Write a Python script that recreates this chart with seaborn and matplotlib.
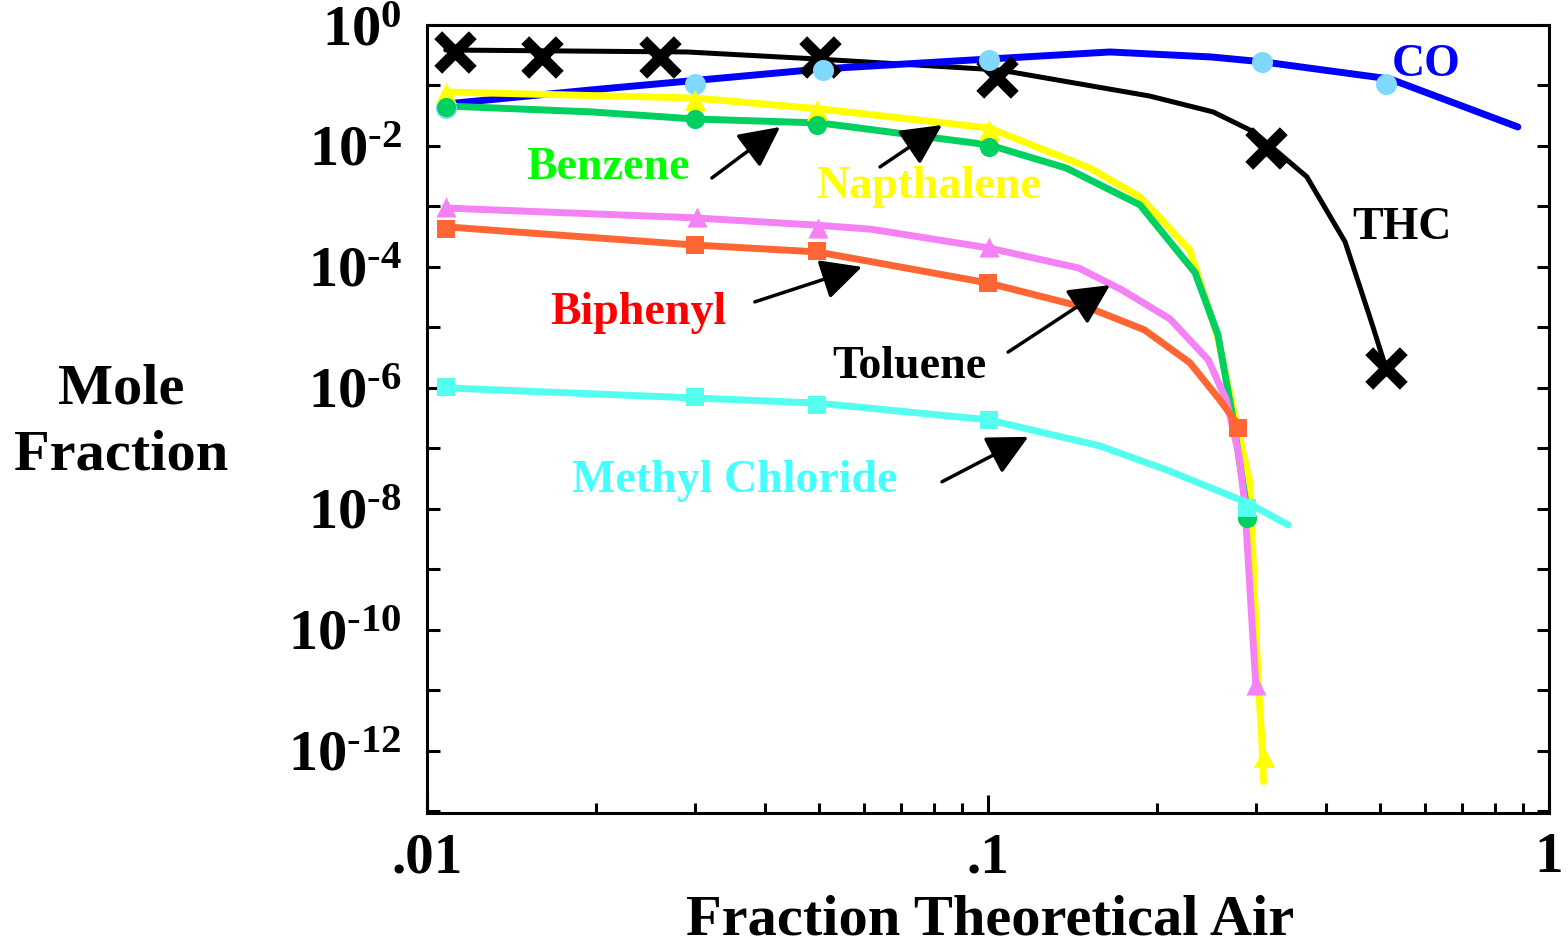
import numpy as np
import pandas as pd
import matplotlib
matplotlib.use("Agg")
import matplotlib.pyplot as plt
import matplotlib.ticker as mticker
import seaborn as sns

# ---- data (model curves + data points) ----
thc_x = [0.0108, 0.0291, 0.0496, 0.105, 0.194, 0.252, 0.298, 0.37, 0.433, 0.483, 0.51]
thc_y = [0.386, 0.358, 0.274, 0.18, 0.067, 0.0365, 0.017, 0.0031, 2.6e-4, 1.19e-5, 2.4e-6]
thc_px = [0.0112, 0.016, 0.026, 0.0502, 0.1037, 0.313, 0.512]
thc_py = [0.358, 0.296, 0.296, 0.296, 0.138, 0.0093, 2.14e-6]

co_x = [0.0108, 0.0195, 0.0502, 0.1004, 0.165, 0.25, 0.31, 0.521, 0.88]
co_y = [0.0494, 0.084, 0.187, 0.274, 0.358, 0.296, 0.245, 0.128, 0.0206]
co_px = [0.0108, 0.030, 0.0508, 0.1004, 0.308, 0.512]
co_py = [0.0425, 0.106, 0.18, 0.264, 0.245, 0.106]

nap_x = [0.0108, 0.030, 0.0502, 0.1004, 0.152, 0.1866, 0.229, 0.256, 0.293, 0.303, 0.308, 0.31]
nap_y = [0.078, 0.062, 0.041, 0.0198, 0.0043, 0.00144, 1.9e-4, 7.5e-6, 2.7e-8, 1.5e-11, 1.26e-12, 3.1e-13]
nap_px = [0.0108, 0.030, 0.0496, 0.1004, 0.31]
nap_py = [0.075, 0.058, 0.039, 0.0184, 7.9e-13]

ben_x = [0.0108, 0.0197, 0.030, 0.0502, 0.1004, 0.138, 0.1866, 0.234, 0.257, 0.273, 0.29]
ben_y = [0.0458, 0.0365, 0.0279, 0.024, 0.0104, 0.0043, 0.00106, 8e-5, 7.5e-6, 3.3e-7, 8.6e-9]
ben_px = [0.0108, 0.030, 0.0496, 0.1004, 0.29]
ben_py = [0.0441, 0.0279, 0.0222, 0.0096, 7.1e-9]

tol_x = [0.0108, 0.0297, 0.0496, 0.0619, 0.1002, 0.145, 0.173, 0.211, 0.247, 0.266, 0.28, 0.287, 0.30]
tol_y = [9.4e-4, 6.5e-4, 4.9e-4, 4.2e-4, 2.06e-4, 9.6e-5, 4.2e-5, 1.38e-5, 2.9e-6, 6.3e-7, 7.8e-8, 1.16e-8, 1.33e-11]
tol_px = [0.0108, 0.0303, 0.0498, 0.1004, 0.30]
tol_py = [9.8e-4, 6.7e-4, 4.4e-4, 2.1e-4, 1.23e-11]

bip_x = [0.0108, 0.030, 0.0496, 0.0596, 0.1002, 0.1545, 0.19, 0.229, 0.259, 0.279]
bip_y = [4.6e-4, 2.3e-4, 1.77e-4, 1.3e-4, 5.4e-5, 1.95e-5, 9.1e-6, 2.6e-6, 6.3e-7, 2.45e-7]
bip_px = [0.0108, 0.030, 0.0496, 0.1002, 0.279]
bip_py = [4.2e-4, 2.3e-4, 1.8e-4, 5.4e-5, 2.2e-7]

mcl_x = [0.0108, 0.030, 0.0496, 0.1002, 0.158, 0.208, 0.29, 0.343]
mcl_y = [1e-6, 6.8e-7, 5.6e-7, 2.96e-7, 1.1e-7, 4.4e-8, 1.26e-8, 5.4e-9]
mcl_px = [0.0108, 0.030, 0.0496, 0.1004, 0.29]
mcl_py = [1.04e-6, 7.1e-7, 5.2e-7, 2.96e-7, 1.04e-8]

# (name, line x, line y, point x, point y, line colour, marker colour, marker, size, lw)
series = [
    ("THC", thc_x, thc_y, thc_px, thc_py, "black", "black", "x", 620, 3.6),
    ("CO", co_x, co_y, co_px, co_py, "#0000ff", "#80d8ff", "o", 230, 5.0),
    ("Napthalene", nap_x, nap_y, nap_px, nap_py, "#ffff00", "#ffff00", "^", 230, 5.0),
    ("Benzene", ben_x, ben_y, ben_px, ben_py, "#00d060", "#00d060", "o", 190, 5.0),
    ("Toluene", tol_x, tol_y, tol_px, tol_py, "#f582f5", "#f582f5", "^", 210, 5.0),
    ("Biphenyl", bip_x, bip_y, bip_px, bip_py, "#ff6633", "#ff6633", "s", 160, 5.0),
    ("Methyl Chloride", mcl_x, mcl_y, mcl_px, mcl_py, "#55fff0", "#55fff0", "s", 160, 5.0),
]

# labels: text, colour, text position, arrow tail, arrow head
labels = [
    ("Benzene", "#00ff00", (0.021, 0.0043), (0.0322, 0.00296), (0.0426, 0.0206)),
    ("Napthalene", "#ffff00", (0.0782, 0.0021), (0.0642, 0.0045), (0.0828, 0.0222)),
    ("Biphenyl", "#ff0000", (0.0238, 1.74e-5), (0.0384, 2.64e-5), (0.0596, 1e-4)),
    ("Toluene", "black", (0.0723, 2.2e-6), (0.1086, 3.9e-6), (0.165, 5e-5)),
    ("Methyl Chloride", "#44ffff", (0.0353, 2.9e-8), (0.0828, 2.8e-8), (0.118, 1.55e-7)),
    ("THC", "black", (0.547, 4.4e-4), None, None),
    ("CO", "#0000ff", (0.604, 0.218), None, None),
]

sns.set_theme(style="white")
plt.rcParams["font.family"] = ["Liberation Serif", "DejaVu Serif"]
plt.rcParams["font.weight"] = "bold"
plt.rcParams["mathtext.fontset"] = "custom"
plt.rcParams["mathtext.rm"] = "Liberation Serif:bold"
plt.rcParams["mathtext.bf"] = "Liberation Serif:bold"
plt.rcParams["mathtext.it"] = "Liberation Serif:bold"
for key in ["text.color", "axes.labelcolor", "xtick.color", "ytick.color", "axes.edgecolor"]:
    plt.rcParams[key] = "black"

W, H = 1568, 947
fig = plt.figure(figsize=(W / 100, H / 100), dpi=100)
ax = fig.add_axes([427 / W, 1 - 813 / H, (1549 - 427) / W, (813 - 25) / H])

for name, lx, ly, mx, my, lc, mc, mk, ms, lw in series:
    sns.lineplot(x=lx, y=ly, ax=ax, color=lc, linewidth=lw, sort=False,
                 estimator=None, legend=False, zorder=3)
    if mk == "x":
        sns.scatterplot(x=mx, y=my, ax=ax, marker="x", s=ms, color=mc,
                        linewidth=8, legend=False, zorder=4)
    else:
        sns.scatterplot(x=mx, y=my, ax=ax, marker=mk, s=ms, color=mc,
                        linewidth=0, legend=False, zorder=4)

ax.set_xscale("log")
ax.set_yscale("log")
ax.set_xlim(0.01, 1)
ax.set_ylim(10 ** -13.03, 1)

ax.xaxis.set_major_locator(mticker.FixedLocator([0.01, 0.1, 1]))
ax.xaxis.set_major_formatter(mticker.FixedFormatter([".01", ".1", "1"]))
ax.xaxis.set_minor_locator(mticker.LogLocator(base=10, subs=np.arange(2, 10), numticks=20))
ax.xaxis.set_minor_formatter(mticker.NullFormatter())

ax.yaxis.set_major_locator(mticker.LogLocator(base=10, subs=(1.0,), numticks=30))
ax.yaxis.set_minor_locator(mticker.NullLocator())


def yfmt(v, pos):
    e = int(round(np.log10(v)))
    if e % 2:
        return ""
    if e < 0:
        return "$\\mathbf{10^{\u2010%d}}$" % (-e)
    return r"$\mathbf{10^{%d}}$" % e


ax.yaxis.set_major_formatter(mticker.FuncFormatter(yfmt))

ax.tick_params(axis="x", which="major", direction="in", length=13, width=2.2,
               labelsize=41, pad=14, top=False, bottom=True)
ax.tick_params(axis="x", which="minor", direction="in", length=7, width=2.2,
               top=False, bottom=True)
ax.tick_params(axis="y", which="major", direction="in", length=9, width=2.2,
               labelsize=42, pad=18, left=True, right=True)
for lab in ax.get_xticklabels() + ax.get_yticklabels():
    lab.set_fontweight("bold")

for sp in ax.spines.values():
    sp.set_linewidth(2.2)
    sp.set_color("black")
ax.grid(False)

for text, col, tpos, tail, head in labels:
    ax.text(tpos[0], tpos[1], text, color=col, fontsize=33, fontweight="bold",
            ha="center", va="center", zorder=6)
    if tail is not None:
        ax.annotate("", xy=head, xytext=tail,
                    arrowprops=dict(arrowstyle="-|>,head_length=1.0,head_width=0.5",
                                    mutation_scale=25, lw=2.5, color="black",
                                    shrinkA=0, shrinkB=0), zorder=6)

fig.text(121 / W, 1 - 422 / H, "Mole\nFraction", fontsize=42, fontweight="bold",
         ha="center", va="center", linespacing=1.35)
fig.text(990 / W, 1 - 920 / H, "Fraction Theoretical Air", fontsize=42,
         fontweight="bold", ha="center", va="center")

fig.savefig("out.png", dpi=100)
